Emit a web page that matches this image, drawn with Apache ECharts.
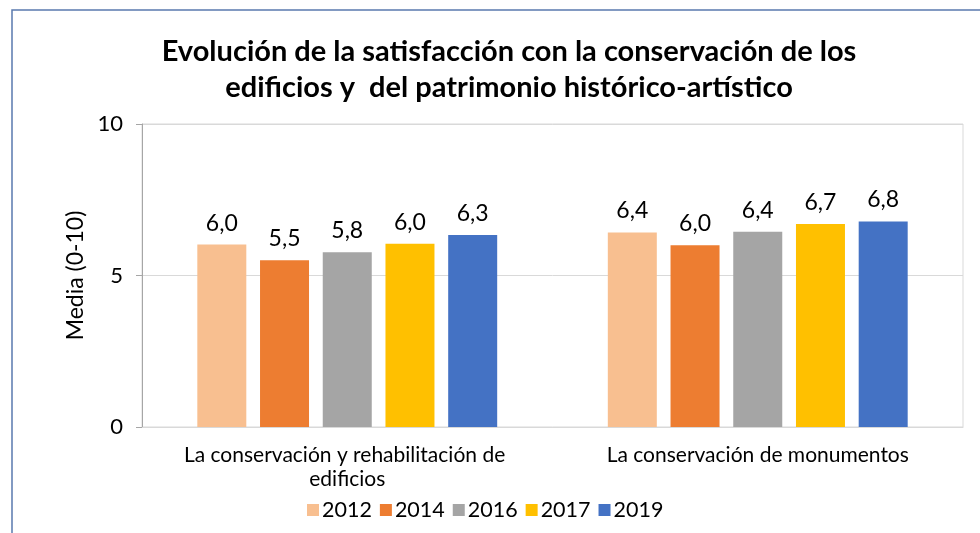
<!DOCTYPE html>
<html>
<head>
<meta charset="utf-8">
<script src="https://cdn.jsdelivr.net/npm/echarts@6/dist/echarts.min.js"></script>
<style>
html,body{margin:0;padding:0;background:#fff;}
#c{width:980px;height:533px;}
</style>
</head>
<body>
<div id="c"></div>
<script>
const categories = ['La conservación y rehabilitación de edificios', 'La conservación de monumentos'];
const years = ['2012', '2014', '2016', '2017', '2019'];
const colors = ['#F8BF90', '#ED7D31', '#A5A5A5', '#FFC000', '#4472C4'];
const v2012 = [6.02, 6.42];
const v2014 = [5.50, 6.00];
const v2016 = [5.77, 6.44];
const v2017 = [6.05, 6.70];
const v2019 = [6.34, 6.78];
const yTicks = [0, 5, 10];

const values = [v2012, v2014, v2016, v2017, v2019];
const chart = echarts.init(document.getElementById('c'));
const font = 'Lato, "Open Sans", sans-serif';

chart.setOption({
  animation: false,
  title: {
    text: 'Evolución de la satisfacción con la conservación de los\nedificios y  del patrimonio histórico-artístico',
    left: 504, top: 29, textAlign: 'center',
    textStyle: {fontFamily: font, fontWeight: 'bold', fontSize: 29, color: '#000', lineHeight: 36}
  },
  graphic: [{
    type: 'polyline',
    shape: {points: [[12, 540], [12, 10], [990, 10]]},
    style: {stroke: '#5A7AAE', lineWidth: 1.5, fill: null}
  }],
  legend: {
    data: years, left: 302, top: 494, itemWidth: 12, itemHeight: 12, itemGap: 8,
    icon: 'rect',
    textStyle: {fontFamily: font, fontSize: 21.5, color: '#000', padding: [0, 0, 0, -2]}
  },
  grid: {left: 142, right: 17, top: 124, bottom: 106, show: true, borderColor: '#D9D9D9', borderWidth: 1},
  xAxis: {
    type: 'category', data: categories,
    axisTick: {show: false},
    axisLine: {lineStyle: {color: '#D9D9D9', width: 1}},
    axisLabel: {fontFamily: font, fontSize: 21, color: '#000', margin: 16, width: 380, overflow: 'break', lineHeight: 24, interval: 0}
  },
  yAxis: {
    type: 'value', min: 0, max: 10, interval: 5,
    name: 'Media (0-10)', nameLocation: 'middle', nameGap: 53, nameRotate: 90,
    nameTextStyle: {fontFamily: font, fontSize: 23, color: '#000'},
    axisLine: {show: true, lineStyle: {color: '#A6A6A6'}},
    axisTick: {show: true, length: 6, lineStyle: {color: '#A6A6A6'}},
    splitLine: {lineStyle: {color: '#D9D9D9'}},
    axisLabel: {fontFamily: font, fontSize: 22, color: '#000', margin: 19,
      formatter: v => yTicks.includes(v) ? String(v) : ''}
  },
  series: years.map((y, i) => ({
    name: y, type: 'bar', data: values[i], barWidth: 49, barGap: '28%',
    itemStyle: {color: colors[i]},
    label: {show: true, position: 'top', distance: 10, fontFamily: font, fontSize: 23, color: '#000',
      formatter: p => p.value.toFixed(1).replace('.', ',')}
  }))
});
</script>
</body>
</html>
